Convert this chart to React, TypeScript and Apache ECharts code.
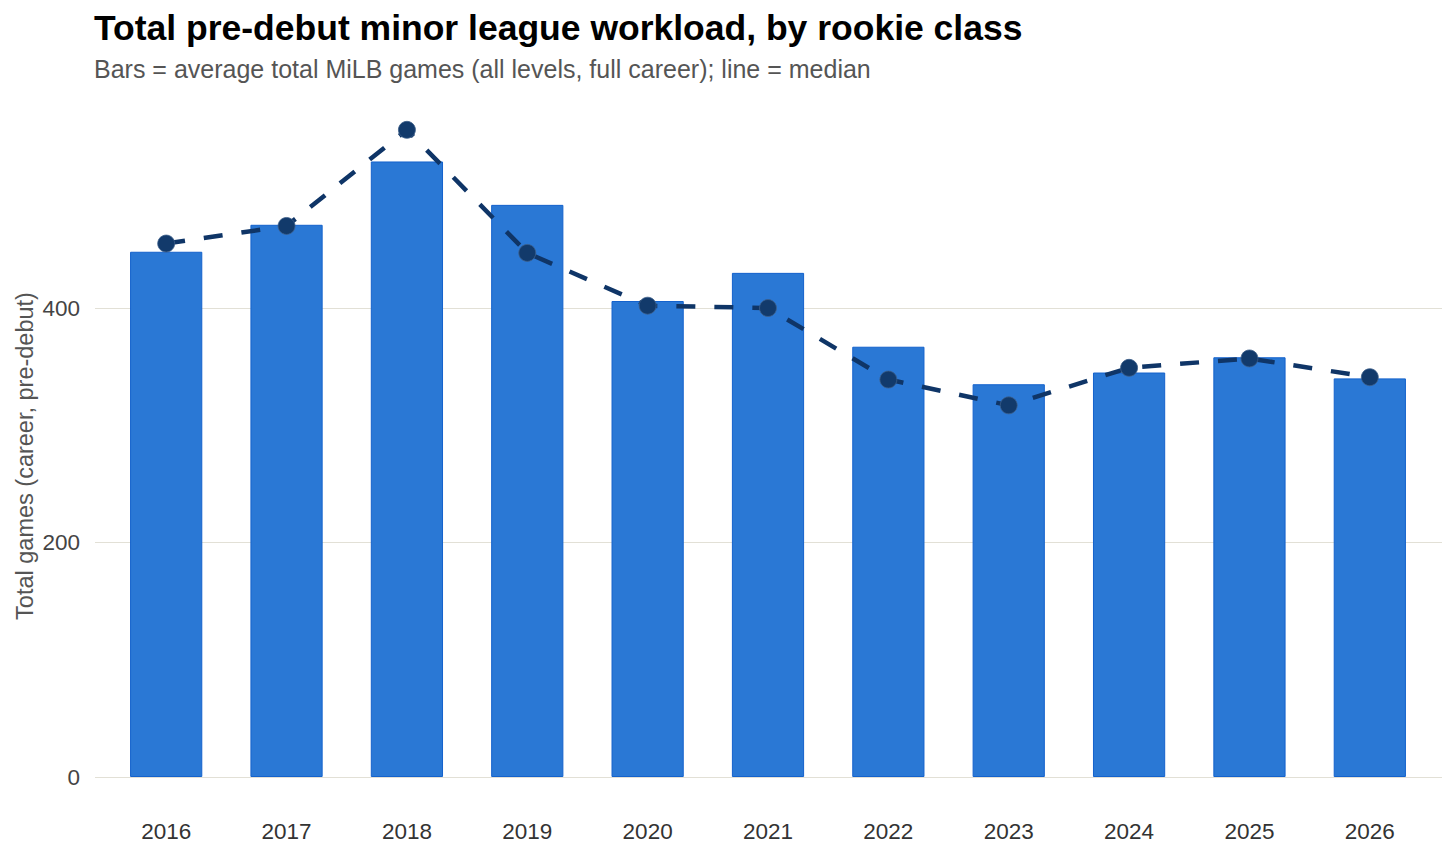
import React, { useEffect, useRef } from "react";
import * as echarts from "echarts";

const years = ["2016", "2017", "2018", "2019", "2020", "2021", "2022", "2023", "2024", "2025", "2026"];
const avgGames = [448, 471, 525, 488, 406, 430, 367, 335, 345, 358, 340];
const medianGames = [455, 470, 552, 447, 402, 400, 339, 317, 349, 357, 341];
const yTicks = { min: 0, max: 580, interval: 200 };

const FONT = "'Liberation Sans', Arial, sans-serif";

export default function App() {
  const ref = useRef<HTMLDivElement>(null);
  useEffect(() => {
    if (!ref.current) return;
    const chart = echarts.init(ref.current, null, { renderer: "svg" });
    chart.setOption({
      animation: false,
      backgroundColor: "#ffffff",
      textStyle: { fontFamily: FONT },
      title: [
        {
          text: "Total pre-debut minor league workload, by rookie class",
          left: 89,
          top: 5,
          textStyle: { fontFamily: FONT, fontSize: 35.5, fontWeight: "bold", color: "#000000" },
        },
        {
          text: "Bars = average total MiLB games (all levels, full career); line = median",
          left: 89,
          top: 51,
          textStyle: { fontFamily: FONT, fontSize: 25, fontWeight: "normal", color: "#555555" },
        },
      ],
      graphic: [
        {
          type: "text",
          x: 25,
          y: 456,
          rotation: Math.PI / 2,
          style: {
            text: "Total games (career, pre-debut)",
            fontFamily: FONT,
            fontSize: 23.5,
            fill: "#555555",
            align: "center",
            verticalAlign: "middle",
          },
        },
      ],
      grid: [
        { left: 106, right: 26, top: 97, bottom: 73 },
        { left: 95, right: 14, top: 97, bottom: 73 },
      ],
      xAxis: [
        {
          type: "category",
          gridIndex: 0,
          data: years,
          axisLine: { show: false },
          axisTick: { show: false },
          axisLabel: { fontFamily: FONT, fontSize: 22.5, color: "#333333", margin: 43 },
        },
        {
          type: "value",
          gridIndex: 1,
          show: false,
          min: 0,
          max: 1,
        },
      ],
      yAxis: [
        {
          type: "value",
          gridIndex: 0,
          min: yTicks.min,
          max: yTicks.max,
          interval: yTicks.interval,
          show: false,
          splitLine: { show: false },
        },
        {
          type: "value",
          gridIndex: 1,
          min: yTicks.min,
          max: yTicks.max,
          interval: yTicks.interval,
          axisLine: { show: false },
          axisTick: { show: false },
          axisLabel: {
            fontFamily: FONT,
            fontSize: 22.5,
            color: "#444444",
            margin: 15,
            showMaxLabel: false,
          },
          splitLine: { show: true, showMaxLine: false, lineStyle: { color: "#e2e0d6", width: 1.2 } },
        },
      ],
      series: [
        {
          type: "bar",
          xAxisIndex: 0,
          yAxisIndex: 0,
          data: avgGames,
          barWidth: "60%",
          itemStyle: { color: "#2a78d5", borderColor: "#1462cc", borderWidth: 1 },
          z: 2,
        },
        {
          type: "line",
          xAxisIndex: 0,
          yAxisIndex: 0,
          data: medianGames,
          symbol: "circle",
          symbolSize: 17,
          lineStyle: { color: "#0f3567", width: 4.5, type: [19, 19] },
          itemStyle: { color: "#123a6b", borderColor: "#3d5f8a", borderWidth: 0.8 },
          z: 3,
        },
      ],
    });
    return () => chart.dispose();
  }, []);
  return <div ref={ref} style={{ width: 1456, height: 850, position: "absolute", left: 0, top: 0 }} />;
}
